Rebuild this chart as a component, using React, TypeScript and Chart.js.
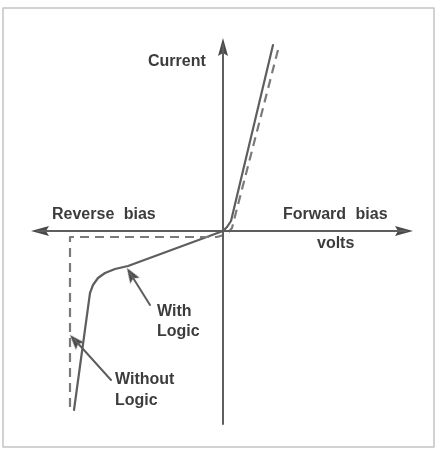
import React, { useEffect, useRef } from "react";
import { Chart, registerables } from "chart.js";

Chart.register(...registerables);

// Schematic diode characteristic: x = bias volts, y = current (arbitrary units, origin = 0,0)
const withLogicVolts = [-149, -133, -130, -125, -118, -108, -95, 0, 4, 8, 50];
const withLogicCurrent = [-179, -62, -54, -47, -42, -38, -35, 0, 4, 10, 186];
const withoutLogicVolts = [-153, -153, -6, 4, 9, 55];
const withoutLogicCurrent = [-176, -6, -6, -3, 3, 181];

// axes
const currentAxisVolts = [0, 0];
const currentAxisCurrent = [-193, 186];
const voltsAxisVolts = [-185, 183];
const voltsAxisCurrent = [0, 0];

// axis arrow tips
const axisTipVolts = [0, -192, 190];
const axisTipCurrent = [193, 0, 0];
const axisTipAngle = [0, -90, 90];

// pointer arrows (tail -> tip)
const pointerWithVolts = [-73, -93];
const pointerWithCurrent = [-74, -42];
const pointerWithoutVolts = [-112, -149];
const pointerWithoutCurrent = [-149, -108];
const pointerTipVolts = [-96, -153];
const pointerTipCurrent = [-37, -104];
const pointerTipAngle = [-32, -42];

// frame
const frameVolts = [-220, 211, 211, -220, -220];
const frameCurrent = [223, 223, -216, -216, 223];

// text labels
const labelTexts = ["Current", "Reverse bias", "Forward bias", "volts", "With", "Logic", "Without", "Logic"];
const labelVolts = [-75, -171, 60, 94, -66, -66, -108, -108];
const labelCurrent = [169, 16, 16, -13, -81, -101, -149, -170];

const zip = (xs: number[], ys: number[]) => xs.map((x, i) => ({ x, y: ys[i] }));

function makeArrowHead(len: number, wid: number, color: string) {
  const c = document.createElement("canvas");
  c.width = wid;
  c.height = len * 2;
  const g = c.getContext("2d")!;
  g.fillStyle = color;
  g.beginPath();
  g.moveTo(wid / 2, len);
  g.lineTo(wid, len * 2);
  g.lineTo(wid / 2, len * 2 - 3);
  g.lineTo(0, len * 2);
  g.closePath();
  g.fill();
  return c;
}

const LINE = "#5e5e5e";
const TEXT = "#3c3c3c";

export default function App() {
  const ref = useRef<HTMLCanvasElement | null>(null);

  useEffect(() => {
    if (!ref.current) return;
    const axisHead = makeArrowHead(18, 10, "#4a4a4a");
    const pointerHead = makeArrowHead(15, 11, "#4a4a4a");

    const labelPlugin = {
      id: "labels",
      afterDatasetsDraw(chart: any) {
        const { ctx, scales } = chart;
        ctx.save();
        ctx.fillStyle = TEXT;
        ctx.font = "bold 16px 'Liberation Sans', Arial, sans-serif";
        ctx.textBaseline = "middle";
        ctx.textAlign = "left";
        try {
          (ctx as any).wordSpacing = "5px";
        } catch (e) {}
        labelTexts.forEach((t, i) => {
          ctx.fillText(t, scales.x.getPixelForValue(labelVolts[i]), scales.y.getPixelForValue(labelCurrent[i]));
        });
        ctx.restore();
      },
    };

    const lineDs = (data: any[], color: string, width: number, dash: number[] = []) => ({
      data,
      showLine: true,
      borderColor: color,
      borderWidth: width,
      borderDash: dash,
      pointRadius: 0,
      pointHoverRadius: 0,
      fill: false,
      tension: 0,
      borderJoinStyle: "round",
      borderCapStyle: dash.length ? "butt" : "round",
      clip: false,
    });

    const chart = new Chart(ref.current, {
      type: "scatter",
      data: {
        datasets: [
          lineDs(zip(frameVolts, frameCurrent), "#c4c4c4", 1.5) as any,
          lineDs(zip(currentAxisVolts, currentAxisCurrent), LINE, 2) as any,
          lineDs(zip(voltsAxisVolts, voltsAxisCurrent), LINE, 2) as any,
          lineDs(zip(withoutLogicVolts, withoutLogicCurrent), "#7a7a7a", 2.2, [9, 6]) as any,
          lineDs(zip(withLogicVolts, withLogicCurrent), LINE, 2.2) as any,
          lineDs(zip(pointerWithVolts, pointerWithCurrent), LINE, 2) as any,
          lineDs(zip(pointerWithoutVolts, pointerWithoutCurrent), LINE, 2) as any,
          {
            data: zip(axisTipVolts, axisTipCurrent),
            pointStyle: axisHead,
            pointRotation: axisTipAngle,
            pointRadius: 5,
            showLine: false,
            clip: false,
          } as any,
          {
            data: zip(pointerTipVolts, pointerTipCurrent),
            pointStyle: pointerHead,
            pointRotation: pointerTipAngle,
            pointRadius: 5,
            showLine: false,
            clip: false,
          } as any,
        ],
      },
      options: {
        responsive: false,
        animation: false,
        devicePixelRatio: 1,
        layout: { padding: 0, autoPadding: false },
        events: [],
        plugins: { legend: { display: false }, tooltip: { enabled: false } },
        scales: {
          x: { type: "linear", min: -223, max: 212, display: false },
          y: { type: "linear", min: -219, max: 231, display: false },
        },
      },
      plugins: [labelPlugin],
    });
    return () => chart.destroy();
  }, []);

  return (
    <div style={{ position: "fixed", left: 0, top: 0, width: 435, height: 450, background: "#fff" }}>
      <canvas ref={ref} width={435} height={450} />
    </div>
  );
}
